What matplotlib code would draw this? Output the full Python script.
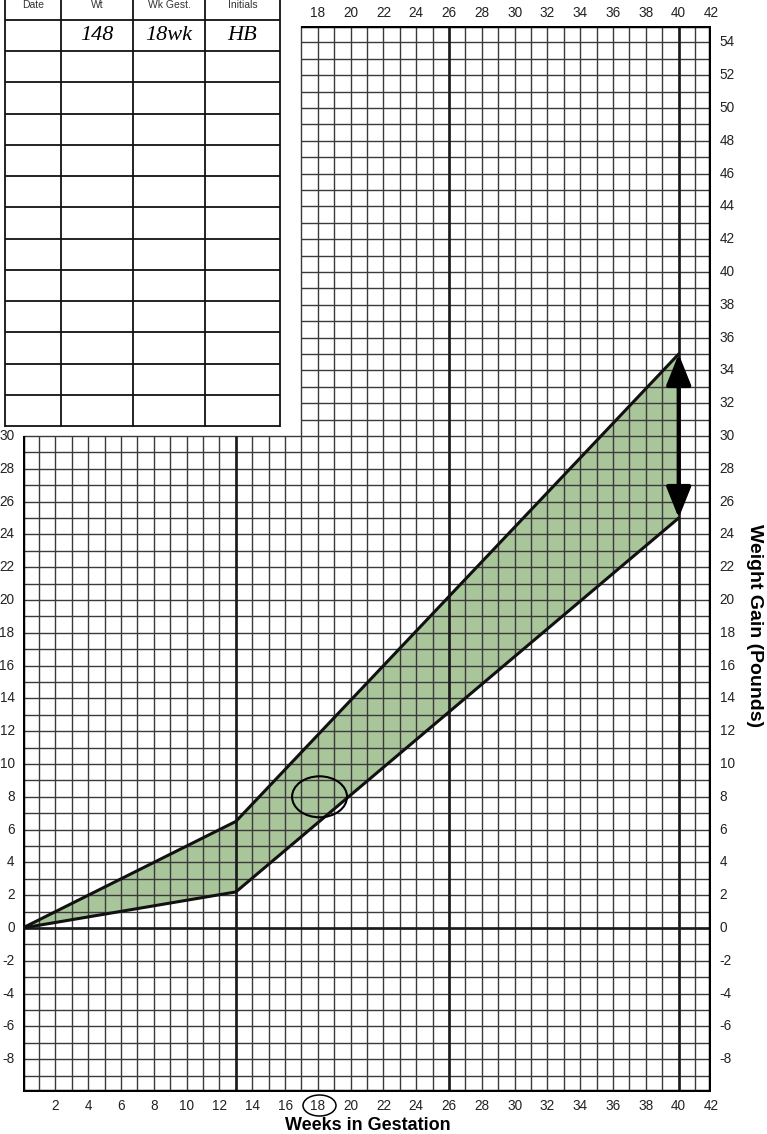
import numpy as np
import matplotlib
matplotlib.use("Agg")
import matplotlib.pyplot as plt
from matplotlib.patches import Ellipse

plt.rcParams['font.family'] = ['Liberation Sans', 'DejaVu Sans']

# ==========================================
# DATA
# ==========================================
band_weeks = [0, 13, 40]
band_lower = [0, 2.2, 25]
band_upper = [0, 6.5, 35]

bottom_ticks = list(range(2, 43, 2))
top_ticks = list(range(18, 43, 2))
left_ticks = list(range(30, -9, -2))
right_ticks = list(range(54, -9, -2))

marked_week = 18
marked_gain = 8

table_headers = ["Date", "Wt", "Wk Gest.", "Initials"]
table_entry = ["", "148", "18wk", "HB"]
table_rows = 13

# ==========================================
# FIGURE / GRID
# ==========================================
W, H = 767, 1134
fig = plt.figure(figsize=(W / 100, H / 100), dpi=100)
fig.patch.set_facecolor("white")

ax = fig.add_axes([22.7 / W, 42 / H, 688.8 / W, 1066 / H])
ax.set_xlim(0, 42)
ax.set_ylim(-10, 55)
ax.axis("off")

grid_col = "#3a3a3a"
for w in range(0, 43):
    top = 55 if w >= 17 else 30
    ax.vlines(w, -10, top, color=grid_col, lw=1.0, zorder=2)
for g in range(-10, 56):
    left = 0 if g <= 30 else 17
    ax.hlines(g, left, 42, color=grid_col, lw=1.0, zorder=2)

# heavier reference lines
ax.vlines(13, -10, 30, color="#1a1a1a", lw=1.9, zorder=3)
ax.vlines([26, 40], -10, 55, color="#1a1a1a", lw=1.9, zorder=3)
ax.hlines(0, 0, 42, color="#1a1a1a", lw=1.9, zorder=3)

# outer border
ax.vlines(0, -10, 30, color="black", lw=3.2, zorder=4)
ax.vlines(42, -10, 55, color="black", lw=3.2, zorder=4)
ax.hlines(-10, 0, 42, color="black", lw=3.2, zorder=4)
ax.hlines(55, 17, 42, color="black", lw=3.2, zorder=4)

# recommended gain band
ax.fill_between(band_weeks, band_lower, band_upper, color="#a9c59a", lw=0, zorder=1)
ax.plot(band_weeks, band_lower, color="#111111", lw=2.2, zorder=5, solid_capstyle="round")
ax.plot(band_weeks, band_upper, color="#111111", lw=2.2, zorder=5, solid_capstyle="round")

ax.annotate("", xy=(40, band_upper[-1]), xytext=(40, band_lower[-1]),
            arrowprops=dict(arrowstyle="<|-|>,head_length=0.95,head_width=0.38",
                            lw=3, color="black", shrinkA=0, shrinkB=0,
                            mutation_scale=20), zorder=6)

ax.add_patch(Ellipse((marked_week + 0.1, marked_gain), 3.35, 2.5, fill=False,
                     ec="black", lw=1.5, zorder=6))

# tick labels
lab = dict(fontsize=9.8, color="#222222", clip_on=False)
for t in bottom_ticks:
    ax.text(t, -10.85, str(t), ha="center", va="center", **lab)
for t in top_ticks:
    ax.text(t, 55.8, str(t), ha="center", va="center", **lab)
for t in left_ticks:
    ax.text(-0.5, t, str(t), ha="right", va="center", **lab)
for t in right_ticks:
    ax.text(42.5, t, str(t), ha="left", va="center", **lab)

# ==========================================
# OVERLAY (pixel space): table, labels
# ==========================================
ov = fig.add_axes([0, 0, 1, 1])
ov.set_xlim(0, W)
ov.set_ylim(H, 0)
ov.axis("off")

ov.add_patch(Ellipse((319.5, 1105.5), 33, 21, fill=False, ec="black", lw=1.1))
ov.text(368, 1125, "Weeks in Gestation", ha="center", va="center",
        fontsize=13, fontweight="bold")
fig.text(755 / W, 1 - 626 / H, "Weight Gain (Pounds)", rotation=-90,
         ha="center", va="center", fontsize=14, fontweight="bold")

col_x = [5, 61, 133, 205, 280]
row_y = [20 + k * 31.23 for k in range(table_rows + 1)]
ov.vlines(col_x, -5, 427, color="#111111", lw=1.3)
ov.hlines(row_y, col_x[0], col_x[-1], color="#111111", lw=1.3)

for i, h in enumerate(table_headers):
    cx = (col_x[i] + col_x[i + 1]) / 2
    ov.text(cx, 5, h, ha="center", va="center", fontsize=7.5, color="#333333")
    if table_entry[i]:
        ov.text(cx, 36, table_entry[i], ha="center", va="center", fontsize=16,
                style="italic", family=["Liberation Serif", "DejaVu Serif"])

fig.savefig("out.png", dpi=100, facecolor="white")
